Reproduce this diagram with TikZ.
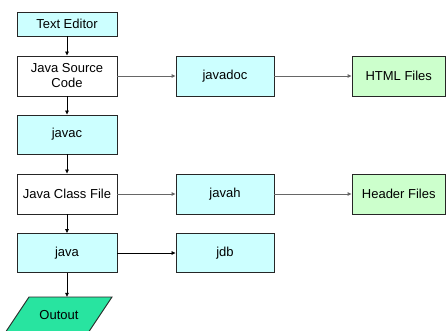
\documentclass[tikz,border=0pt]{standalone}
\usepackage{fontspec}
\setmainfont{Liberation Sans}
\usetikzlibrary{arrows.meta}
\definecolor{lcyan}{HTML}{CCFFFF}
\definecolor{lgreen}{HTML}{CCFFCC}
\definecolor{outc}{RGB}{40,228,160}
\begin{document}
\begin{tikzpicture}[x=1pt,y=-1pt,
  txt/.style={font=\fontsize{13}{15}\selectfont},
  box/.style={draw=black!85,line width=0.9pt,minimum width=100pt,inner sep=0pt,align=center,txt},
  cbox/.style={box,fill=lcyan},
  gbox/.style={box,fill=lgreen},
  wbox/.style={box,fill=white},
  varr/.style={draw=black,line width=0.7pt,-{Triangle[length=4pt,width=3.5pt]}},
  harr/.style={draw=black!60,line width=0.9pt,-{Triangle[length=4pt,width=3.5pt]}}]
\useasboundingbox (0,0) rectangle (446,331);
\begin{scope}
\clip (0,0) rectangle (446,331);
\node[cbox,minimum height=24pt] (te) at (67,24) {Text Editor};
\node[wbox,minimum height=40pt] (jsc) at (67,76) {Java Source\\Code};
\node[cbox,minimum height=39pt] (jc) at (67,134.5) {javac};
\node[wbox,minimum height=40pt] (jcf) at (67,194) {Java Class File};
\node[cbox,minimum height=39pt] (jv) at (67,253) {java};
\node[cbox,minimum height=40pt,minimum width=98pt] (jd) at (225,76) {javadoc};
\node[cbox,minimum height=40pt,minimum width=98pt] (jh) at (225,194) {javah};
\node[cbox,minimum height=39pt,minimum width=98pt] (jdb) at (225,253) {jdb};
\node[gbox,minimum height=40pt,minimum width=93.5pt] (html) at (398.75,76) {HTML Files};
\node[gbox,minimum height=40pt,minimum width=93.5pt] (hdr) at (398.75,194) {Header Files};
\fill[outc,draw=black!85,line width=0.9pt] (29,297) -- (112,297) -- (88,333) -- (5,333) -- cycle;
\node[txt,minimum height=36pt,inner sep=0pt] (out) at (59,315) {Outout};
\draw[varr] (te) -- (jsc);
\draw[varr] (jsc) -- (jc);
\draw[varr] (jc) -- (jcf);
\draw[varr] (jcf) -- (jv);
\draw[varr] (jv.south) -- (jv.south |- out.north);
\draw[harr] (jsc) -- (jd);
\draw[harr] (jd) -- (html);
\draw[harr] (jcf) -- (jh);
\draw[harr] (jh) -- (hdr);
\draw[varr] (jv) -- (jdb);
\end{scope}
\end{tikzpicture}
\end{document}
